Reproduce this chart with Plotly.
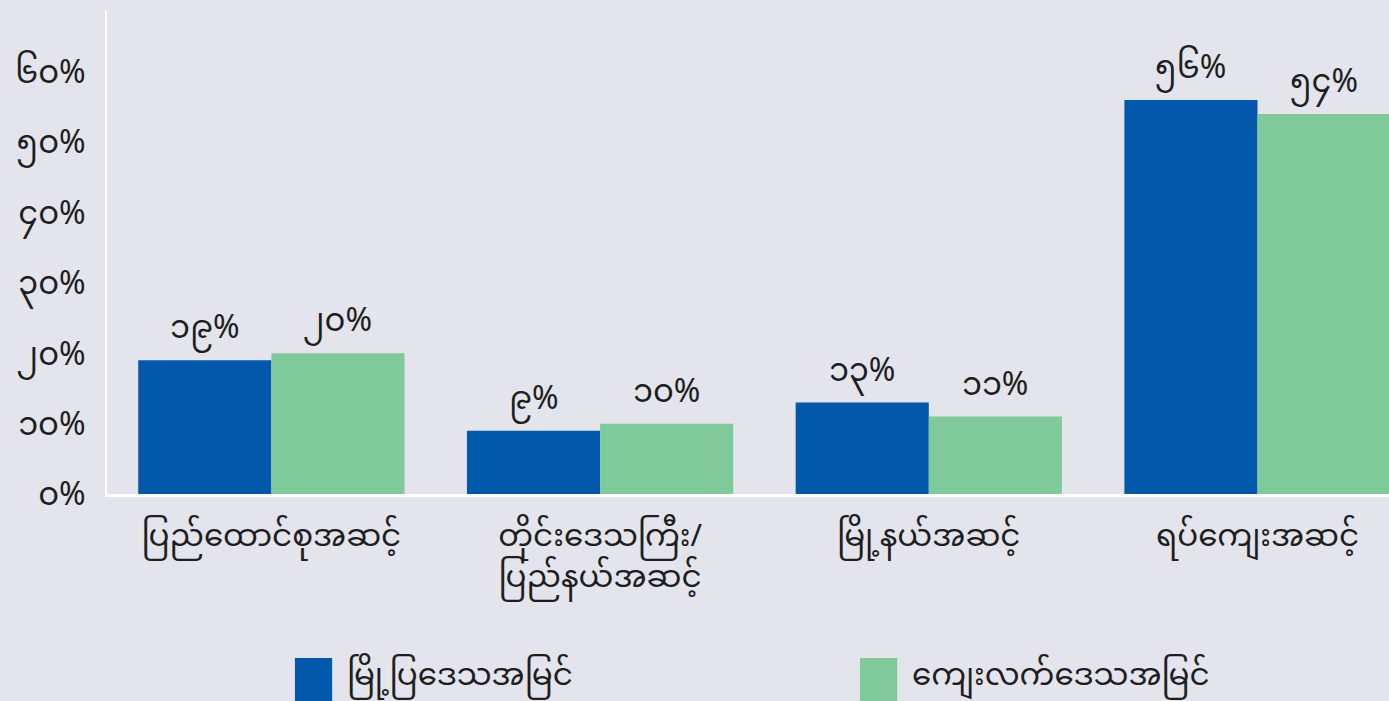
import plotly.graph_objects as go

categories = ["ပြည်ထောင်စုအဆင့်", "တိုင်းဒေသကြီး/<br>ပြည်နယ်အဆင့်", "မြို့နယ်အဆင့်", "ရပ်ကျေးအဆင့်"]
urban_name = "မြို့ပြဒေသအမြင်"
rural_name = "ကျေးလက်ဒေသအမြင်"
urban_values = [19, 9, 13, 56]
rural_values = [20, 10, 11, 54]
tick_values = [0, 10, 20, 30, 40, 50, 60]

MY_DIGITS = str.maketrans("0123456789", "၀၁၂၃၄၅၆၇၈၉")


def my_pct(v):
    return str(v).translate(MY_DIGITS) + "%"


tick_labels = [my_pct(v) for v in tick_values]

BLUE = "#0258aa"
GREEN = "#80c99b"
BG = "#e3e4ec"
TXT = "#1e1e1e"
FONT = "Noto Sans Myanmar, Noto Sans, DejaVu Sans, sans-serif"

BARGAP = 0.19
X_RANGE = [-0.5, 3.4]

fig = go.Figure()
fig.add_trace(go.Bar(x=categories, y=urban_values, name=urban_name, marker_color=BLUE,
                     marker_line_width=0))
fig.add_trace(go.Bar(x=categories, y=rural_values, name=rural_name, marker_color=GREEN,
                     marker_line_width=0))

# value labels placed over each bar via data coordinates
plot_w = 1389 - 107
px_per_unit = plot_w / (X_RANGE[1] - X_RANGE[0])
half_bar_px = (1 - BARGAP) / 2 * px_per_unit / 2
for vals, sign in ((urban_values, -1), (rural_values, 1)):
    for cat, v in zip(categories, vals):
        fig.add_annotation(x=cat, y=v, xref="x", yref="y", text=my_pct(v),
                           showarrow=False, xanchor="center", yanchor="bottom",
                           xshift=sign * half_bar_px, yshift=-8,
                           font=dict(size=32, color=TXT, family=FONT))

fig.update_layout(
    width=1389, height=701,
    paper_bgcolor=BG, plot_bgcolor=BG,
    margin=dict(l=107, r=0, t=10, b=207),
    barmode="group", bargap=BARGAP, bargroupgap=0,
    showlegend=False,
    font=dict(family=FONT, color=TXT, size=24),
    xaxis=dict(range=X_RANGE, showgrid=False, showline=True, linecolor="white", linewidth=3,
               ticks="", ticklabelstandoff=12,
               tickfont=dict(size=31, color=TXT, family=FONT)),
    yaxis=dict(range=[0, 68.8], tickvals=tick_values, ticktext=tick_labels,
               showgrid=False, showline=True, linecolor="white", linewidth=2,
               zeroline=False, ticks="", ticklabelstandoff=13,
               tickfont=dict(size=32, color=TXT, family=FONT)),
)

# legend drawn as squares + labels below the plot
legend_items = [(urban_name, BLUE, 0.1466), (rural_name, GREEN, 0.5874)]
for name, color, x0 in legend_items:
    fig.add_shape(type="rect", xref="paper", yref="paper",
                  x0=x0, x1=x0 + 0.029, y0=-0.43, y1=-0.339,
                  fillcolor=color, line_width=0)
    fig.add_annotation(x=x0 + 0.039, y=-0.38, xref="paper", yref="paper",
                       text=name, showarrow=False, xanchor="left", yanchor="middle",
                       font=dict(size=31, color=TXT, family=FONT))

fig.write_html(
    "out.html",
    config={"displayModeBar": False},
    post_script="document.body.style.margin='0';document.body.style.background='%s';" % BG,
)
